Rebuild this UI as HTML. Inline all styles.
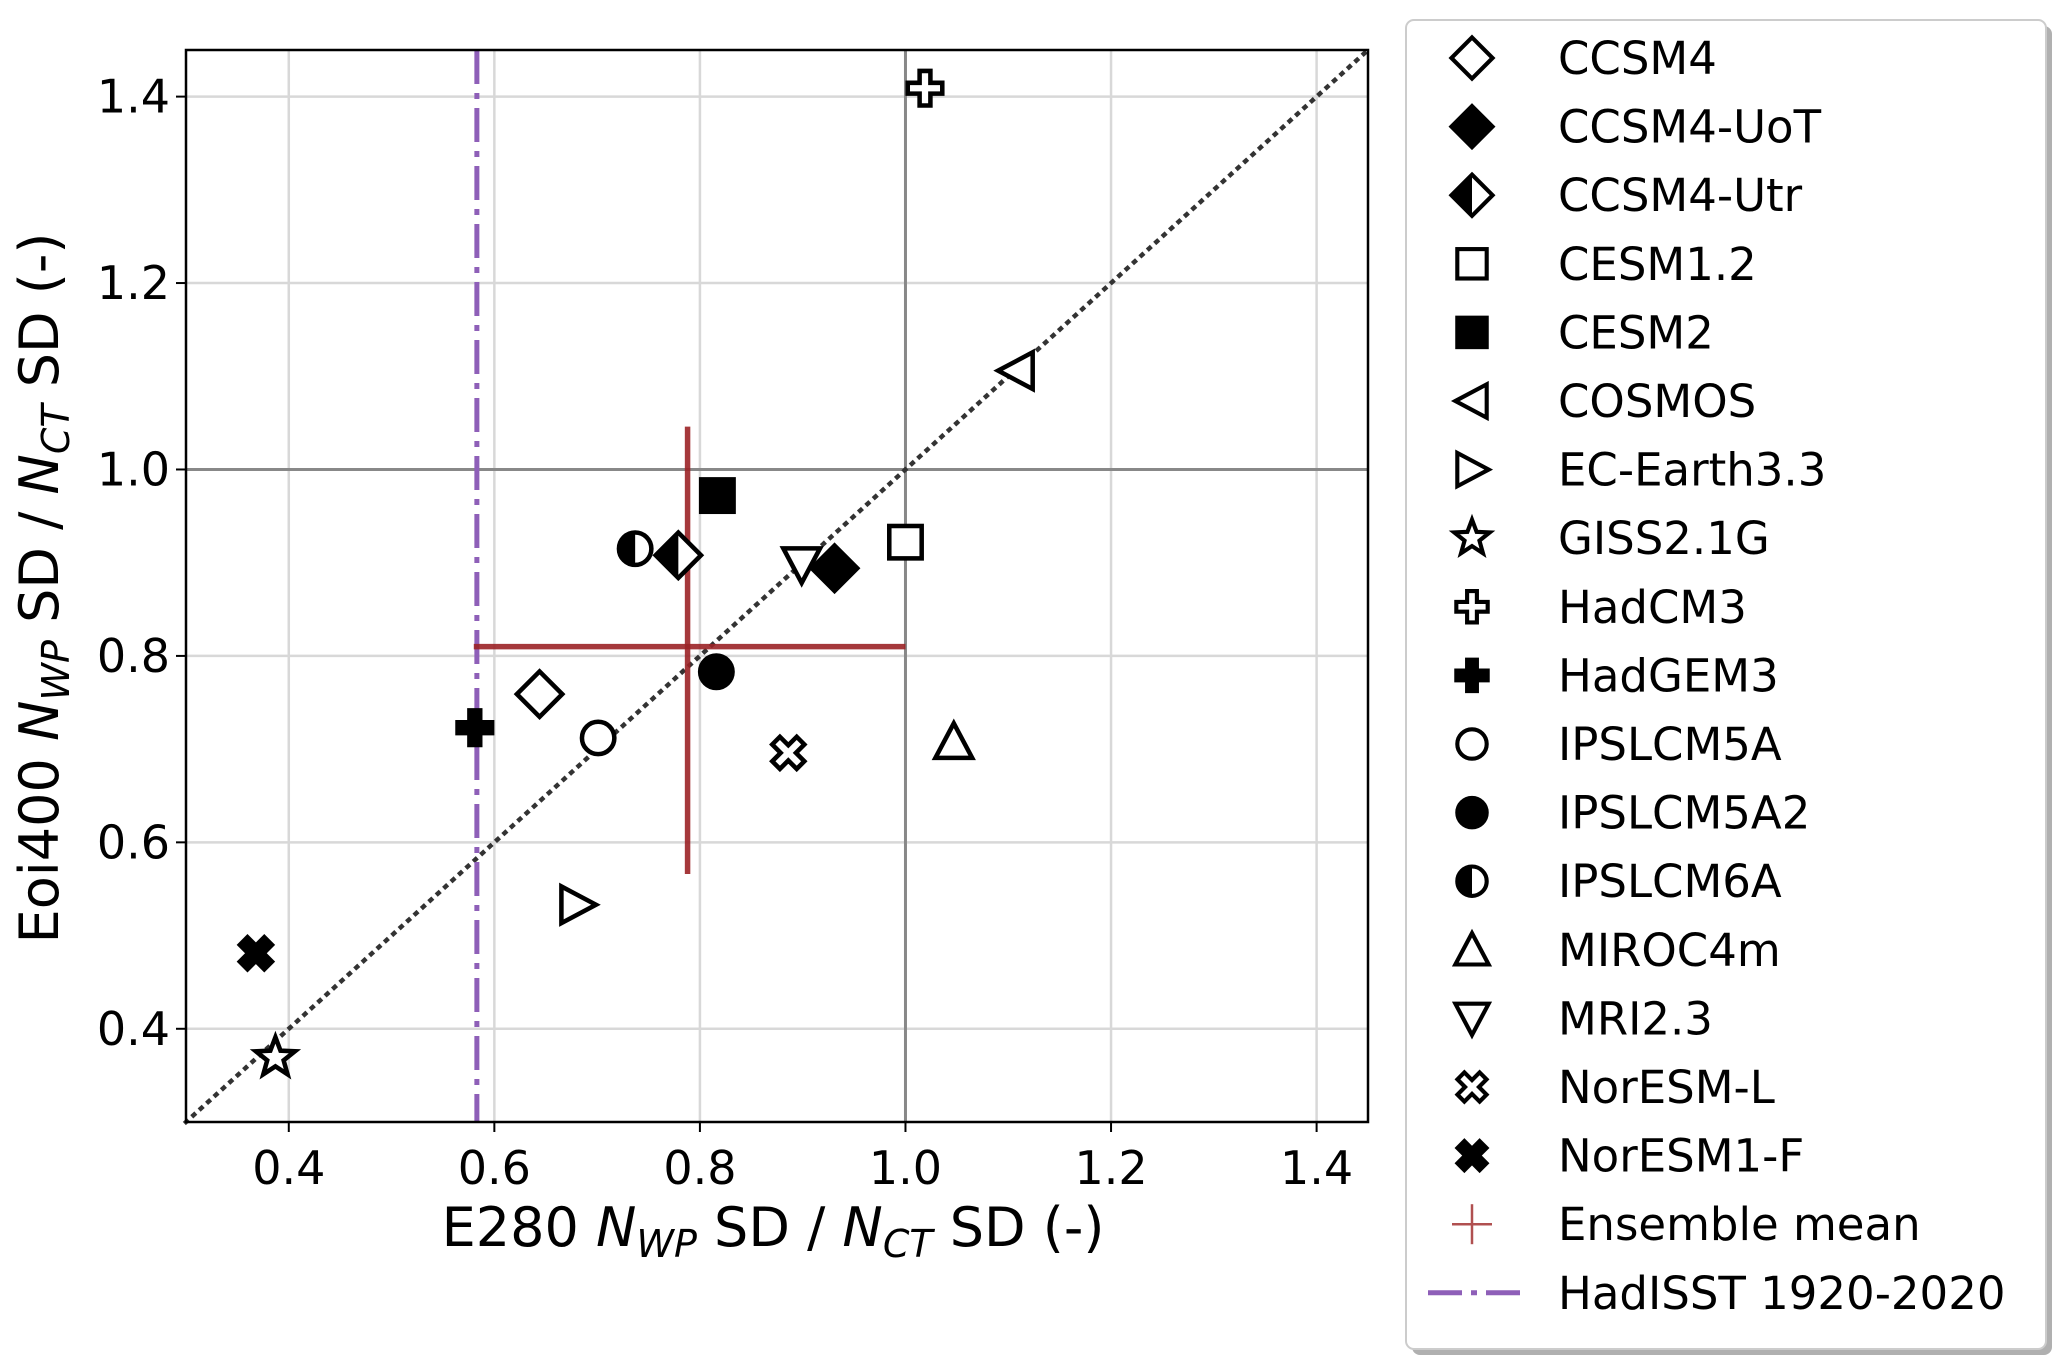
<!DOCTYPE html>
<html><head><meta charset="utf-8"><style>
html,body{margin:0;padding:0;background:#fff}
svg{display:block;font-family:"DejaVu Sans","Liberation Sans",sans-serif}
</style></head><body>
<svg id="chart" width="2067" height="1364" viewBox="0 0 2067 1364" xmlns="http://www.w3.org/2000/svg">
<g id="grid"></g>
<g id="refs"></g>
<g id="marks"></g>
<rect x="186" y="50" width="1182" height="1072" fill="none" stroke="#000" stroke-width="2.5"/>
<g id="ticks"></g>
<text x="773" y="1246" font-size="54" text-anchor="middle">E280 <tspan font-style="italic">N</tspan><tspan font-style="italic" font-size="38" dy="11">WP</tspan><tspan dy="-11"> SD / </tspan><tspan font-style="italic">N</tspan><tspan font-style="italic" font-size="38" dy="11">CT</tspan><tspan dy="-11"> SD (-)</tspan></text>
<text transform="translate(58,588) rotate(-90)" font-size="54" text-anchor="middle">Eoi400 <tspan font-style="italic">N</tspan><tspan font-style="italic" font-size="38" dy="11">WP</tspan><tspan dy="-11"> SD / </tspan><tspan font-style="italic">N</tspan><tspan font-style="italic" font-size="38" dy="11">CT</tspan><tspan dy="-11"> SD (-)</tspan></text>
<rect x="1412" y="26" width="640" height="1329" rx="8" fill="#b0b0b0"/>
<rect x="1406" y="20" width="640" height="1329" rx="8" fill="#fff" stroke="#ccc" stroke-width="2"/>
<g id="legend"></g>
</svg>
<script>
const models = ["CCSM4","CCSM4-UoT","CCSM4-Utr","CESM1.2","CESM2","COSMOS","EC-Earth3.3","GISS2.1G","HadCM3","HadGEM3","IPSLCM5A","IPSLCM5A2","IPSLCM6A","MIROC4m","MRI2.3","NorESM-L","NorESM1-F"];
const shapes = ["D","Df","Dh","s","sf","tl","tr","star","P","Pf","o","of","oh","tu","td","X","Xf"];
const xVals = [0.644,0.931,0.779,1.0,0.817,1.108,0.681,0.387,1.019,0.581,0.701,0.816,0.737,1.047,0.899,0.886,0.368];
const yVals = [0.759,0.894,0.908,0.922,0.972,1.106,0.533,0.369,1.409,0.723,0.712,0.783,0.915,0.708,0.898,0.696,0.481];
const meanX = 0.788, meanY = 0.810;
const meanXRange = [0.580, 1.0];
const meanYRange = [0.566, 1.046];
const hadisst = 0.583;
const xTicks = [0.4,0.6,0.8,1.0,1.2,1.4];
const yTicks = [0.4,0.6,0.8,1.0,1.2,1.4];
const xTickLabels = ["0.4","0.6","0.8","1.0","1.2","1.4"];
const yTickLabels = ["0.4","0.6","0.8","1.0","1.2","1.4"];

const X0=186,X1=1368,Y0=50,Y1=1122, xmin=0.3,xmax=1.45,ymin=0.3,ymax=1.45;
const sx=v=>X0+(v-xmin)/(xmax-xmin)*(X1-X0);
const sy=v=>Y1-(v-ymin)/(ymax-ymin)*(Y1-Y0);
const NS="http://www.w3.org/2000/svg";
function mk(tag,attrs,parent){const e=document.createElementNS(NS,tag);for(const k in attrs)e.setAttribute(k,attrs[k]);parent.appendChild(e);return e;}

const grid=document.getElementById('grid');
xTicks.forEach(t=>{const l=mk('line',{x1:sx(t),x2:sx(t),y1:Y0,y2:Y1,stroke:'#d8d8d8','stroke-width':2.5},grid);

});
yTicks.forEach(t=>{const l=mk('line',{y1:sy(t),y2:sy(t),x1:X0,x2:X1,stroke:'#d8d8d8','stroke-width':2.5},grid);

});

const refs=document.getElementById('refs');
let e;
e=mk('line',{x1:sx(1),x2:sx(1),y1:Y0,y2:Y1,stroke:'#888','stroke-width':3},refs);


e=mk('line',{x1:X0,x2:X1,y1:sy(1),y2:sy(1),stroke:'#888','stroke-width':3},refs);


e=mk('line',{x1:sx(0.3),y1:sy(0.3),x2:sx(1.45),y2:sy(1.45),stroke:'#333','stroke-width':4.5,'stroke-dasharray':'1 9','stroke-linecap':'square'},refs);


e=mk('line',{x1:sx(hadisst),x2:sx(hadisst),y1:Y0,y2:Y1,stroke:'#8e5fb8','stroke-width':5,'stroke-dasharray':'34 9 6 9'},refs);


e=mk('line',{x1:sx(meanXRange[0]),x2:sx(meanXRange[1]),y1:sy(meanY),y2:sy(meanY),stroke:'#9b2226','stroke-opacity':0.9,'stroke-width':5.5},refs);


e=mk('line',{x1:sx(meanX),x2:sx(meanX),y1:sy(meanYRange[0]),y2:sy(meanYRange[1]),stroke:'#9b2226','stroke-opacity':0.9,'stroke-width':5.5},refs);



function marker(shape,cx,cy,parent,s){
  s=s||1;
  const g=mk('g',{transform:`translate(${cx},${cy}) scale(${s})`},parent);
  const sw=4.2, st={stroke:'#000','stroke-width':sw,'stroke-linejoin':'miter'};
  const fill=f=>Object.assign({fill:f?'#000':'#fff'},st);
  const dia='M0,-21 L21,0 L0,21 L-21,0 Z';
  const plus='M-5,-16 H5 V-5 H16 V5 H5 V16 H-5 V5 H-16 V-5 H-5 Z';
  switch(shape){
    case 'D': mk('path',Object.assign({d:dia},fill(false)),g);break;
    case 'Df': mk('path',Object.assign({d:dia},fill(true)),g);break;
    case 'Dh': mk('path',Object.assign({d:dia},fill(false)),g);mk('path',{d:'M0,-21 L-21,0 L0,21 Z',fill:'#000'},g);break;
    case 's': mk('rect',Object.assign({x:-15,y:-15,width:30,height:30},fill(false)),g);break;
    case 'sf': mk('rect',Object.assign({x:-15,y:-15,width:30,height:30},fill(true)),g);break;
    case 'tl': mk('path',Object.assign({d:'M-17,0 L15,-17 L15,17 Z'},fill(false)),g);break;
    case 'tr': mk('path',Object.assign({d:'M17,0 L-15,-17 L-15,17 Z'},fill(false)),g);break;
    case 'tu': mk('path',Object.assign({d:'M0,-17 L17,15 L-17,15 Z'},fill(false)),g);break;
    case 'td': mk('path',Object.assign({d:'M0,17 L17,-15 L-17,-15 Z'},fill(false)),g);break;
    case 'o': mk('circle',Object.assign({r:15},fill(false)),g);break;
    case 'of': mk('circle',Object.assign({r:15},fill(true)),g);break;
    case 'oh': mk('circle',Object.assign({r:15},fill(false)),g);mk('path',{d:'M0,-15 A15,15 0 0 0 0,15 Z',fill:'#000'},g);break;
    case 'star':{let p='';for(let i=0;i<10;i++){const r=i%2?8:19,a=-Math.PI/2+i*Math.PI/5;p+=(i?'L':'M')+(r*Math.cos(a)).toFixed(1)+','+(r*Math.sin(a)).toFixed(1);}mk('path',Object.assign({d:p+'Z'},fill(false)),g);break;}
    case 'P': mk('path',Object.assign({d:plus},fill(false)),g);break;
    case 'Pf': mk('path',Object.assign({d:plus},fill(true)),g);break;
    case 'X': mk('path',Object.assign({d:plus,transform:'rotate(45)'},fill(false)),g);break;
    case 'Xf': mk('path',Object.assign({d:plus,transform:'rotate(45)'},fill(true)),g);break;
  }
  return g;
}
const marks=document.getElementById('marks');
models.forEach((m,i)=>{
  const g=marker(shapes[i],sx(xVals[i]),sy(yVals[i]),marks,1.08);
  
  
});

const ticks=document.getElementById('ticks');
xTicks.forEach((t,i)=>{
  mk('line',{x1:sx(t),x2:sx(t),y1:Y1,y2:Y1+10,stroke:'#000','stroke-width':2},ticks);
  const tx=mk('text',{x:sx(t),y:Y1+62,'font-size':46,'text-anchor':'middle'},ticks);
  tx.textContent=xTickLabels[i];
  
  
});
yTicks.forEach((t,i)=>{
  mk('line',{x1:X0-10,x2:X0,y1:sy(t),y2:sy(t),stroke:'#000','stroke-width':2},ticks);
  const tx=mk('text',{x:X0-16,y:sy(t)+16,'font-size':46,'text-anchor':'end'},ticks);
  tx.textContent=yTickLabels[i];
  
  
});

const leg=document.getElementById('legend');
const LY0=58, LDY=68.6, MX=1472, TX=1558;
models.forEach((m,i)=>{
  const y=LY0+i*LDY;
  const g=mk('g',{},leg);
  
  
  marker(shapes[i],MX,y,g,0.98);
  const t=mk('text',{x:TX,y:y+16,'font-size':45},g);
  t.textContent=m;
});
{
  const y=LY0+17*LDY;
  const g=mk('g',{},leg);
  
  
  mk('line',{x1:MX-20,x2:MX+20,y1:y,y2:y,stroke:'#b05050','stroke-width':2.5},g);
  mk('line',{x1:MX,x2:MX,y1:y-20,y2:y+20,stroke:'#b05050','stroke-width':2.5},g);
  const t=mk('text',{x:TX,y:y+16,'font-size':45},g);t.textContent='Ensemble mean';
}
{
  const y=LY0+18*LDY;
  const g=mk('g',{},leg);
  
  
  mk('line',{x1:1428,x2:1522,y1:y,y2:y,stroke:'#8e5fb8','stroke-width':5,'stroke-dasharray':'34 9 6 9'},g);
  const t=mk('text',{x:TX,y:y+16,'font-size':45},g);t.textContent='HadISST 1920-2020';
}
</script>
</body></html>
